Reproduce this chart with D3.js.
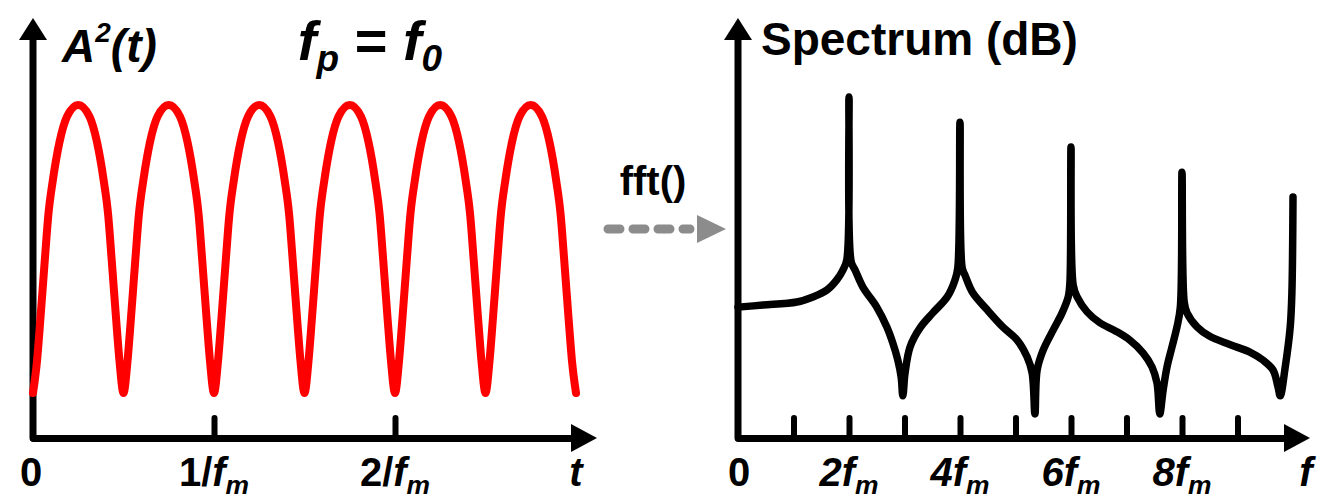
<!DOCTYPE html>
<html>
<head>
<meta charset="utf-8">
<script src="https://cdn.jsdelivr.net/npm/d3@7"></script>
<style>
  html, body { margin: 0; padding: 0; background: #fff; }
  svg { display: block; }
  text { font-family: "Liberation Sans", Arial, sans-serif; font-weight: bold; fill: #000; }
</style>
</head>
<body>
<svg id="chart" width="1340" height="500"></svg>
<script>
// Time samples (units of 1/f_m) and squared amplitude A^2(t), normalised to the peak
const timeT = [
  0.000, 0.022, 0.040, 0.065, 0.085, 0.110, 0.146, 0.188, 0.250, 0.312, 0.354, 0.390, 0.415, 0.435, 0.460, 0.478,
  0.500, 0.522, 0.540, 0.565, 0.585, 0.610, 0.646, 0.688, 0.750, 0.812, 0.854, 0.890, 0.915, 0.935, 0.960, 0.978,
  1.000, 1.022, 1.040, 1.065, 1.085, 1.110, 1.146, 1.188, 1.250, 1.312, 1.354, 1.390, 1.415, 1.435, 1.460, 1.478,
  1.500, 1.522, 1.540, 1.565, 1.585, 1.610, 1.646, 1.688, 1.750, 1.812, 1.854, 1.890, 1.915, 1.935, 1.960, 1.978,
  2.000, 2.022, 2.040, 2.065, 2.085, 2.110, 2.146, 2.188, 2.250, 2.312, 2.354, 2.390, 2.415, 2.435, 2.460, 2.478,
  2.500, 2.522, 2.540, 2.565, 2.585, 2.610, 2.646, 2.688, 2.750, 2.812, 2.854, 2.890, 2.915, 2.935, 2.960, 2.978,
  3.000
];
const ampSq = [
  0.00, 0.11, 0.25, 0.46, 0.62, 0.74, 0.87, 0.96, 1.00, 0.96, 0.87, 0.74, 0.62, 0.46, 0.25, 0.11,
  0.00, 0.11, 0.25, 0.46, 0.62, 0.74, 0.87, 0.96, 1.00, 0.96, 0.87, 0.74, 0.62, 0.46, 0.25, 0.11,
  0.00, 0.11, 0.25, 0.46, 0.62, 0.74, 0.87, 0.96, 1.00, 0.96, 0.87, 0.74, 0.62, 0.46, 0.25, 0.11,
  0.00, 0.11, 0.25, 0.46, 0.62, 0.74, 0.87, 0.96, 1.00, 0.96, 0.87, 0.74, 0.62, 0.46, 0.25, 0.11,
  0.00, 0.11, 0.25, 0.46, 0.62, 0.74, 0.87, 0.96, 1.00, 0.96, 0.87, 0.74, 0.62, 0.46, 0.25, 0.11,
  0.00, 0.11, 0.25, 0.46, 0.62, 0.74, 0.87, 0.96, 1.00, 0.96, 0.87, 0.74, 0.62, 0.46, 0.25, 0.11,
  0.00
];

// Spectrum samples: frequency (units of f_m) and relative level (dB, arbitrary reference)
const specF = [
  0.00, 0.45, 1.06, 1.35, 1.60, 1.78, 1.89, 1.96, 2.00, 2.04, 2.11, 2.25, 2.50, 2.68, 2.79, 2.88, 2.94, 2.97,
  3.01, 3.10, 3.28, 3.51, 3.77, 3.91, 3.96, 4.00, 4.04, 4.09, 4.23, 4.49, 4.77, 5.03, 5.21, 5.30, 5.35,
  5.39, 5.50, 5.68, 5.84, 5.95, 5.98, 6.00, 6.04, 6.11, 6.29, 6.52, 6.80, 7.06, 7.30, 7.46, 7.55, 7.60,
  7.66, 7.73, 7.82, 7.91, 7.97, 8.00, 8.04, 8.09, 8.27, 8.50, 8.86, 9.23, 9.46, 9.64, 9.73, 9.77,
  9.86, 9.95, 9.98, 10.00
];
const specDb = [
  38.2, 38.8, 39.7, 41.2, 43.2, 46.2, 49.1, 52.1, 100.0, 51.5, 49.1, 44.1, 38.2, 32.4, 27.6, 22.6, 17.6, 12.1,
  18.8, 26.5, 32.1, 36.5, 41.2, 46.2, 49.7, 92.6, 49.7, 47.6, 42.4, 37.4, 32.4, 28.5, 23.5, 18.8, 6.8,
  19.7, 25.6, 31.5, 36.5, 41.2, 45.3, 85.3, 44.7, 41.2, 36.8, 33.6, 31.2, 28.5, 24.7, 20.6, 15.9, 6.8,
  13.8, 20.6, 26.5, 32.4, 38.2, 77.9, 39.7, 36.5, 32.4, 29.6, 27.2, 24.9, 22.6, 19.7, 14.7, 12.1,
  20.6, 32.4, 42.4, 70.6
];

// Axis ticks and their labels
const timeTicks = [1, 2];
const timeTickLabels = [
  { t: 0, parts: [["0", false, false]] },
  { t: 1, parts: [["1/", false, false], ["f", true, false], ["m", true, true]] },
  { t: 2, parts: [["2/", false, false], ["f", true, false], ["m", true, true]] }
];
const freqTicks = [1, 2, 3, 4, 5, 6, 7, 8, 9];
const freqTickLabels = [
  { f: 0, parts: [["0", false, false]] },
  { f: 2, parts: [["2f", true, false], ["m", true, true]] },
  { f: 4, parts: [["4f", true, false], ["m", true, true]] },
  { f: 6, parts: [["6f", true, false], ["m", true, true]] },
  { f: 8, parts: [["8f", true, false], ["m", true, true]] }
];

const svg = d3.select("#chart");
const axisY = 438, axisTop = 18, lw = 7, labelY = 486;

// ---- Left panel: A^2(t) ----
const xL = d3.scaleLinear().domain([0, 1]).range([33, 214]);
const yL = d3.scaleLinear().domain([0, 1]).range([393, 105]);
const tEnd = xL.invert(597);

function arrowRight(g, x, y) {
  g.append("path").attr("d", `M${x},${y} L${x - 26},${y - 14} L${x - 26},${y + 14} Z`).attr("fill", "#000");
}
function arrowUp(g, x, y) {
  g.append("path").attr("d", `M${x},${y} L${x - 14},${y + 22} L${x + 14},${y + 22} Z`).attr("fill", "#000");
}
function styleAxis(g) {
  g.select(".domain").attr("stroke", "#000").attr("stroke-width", lw).attr("stroke-linecap", "round");
  g.selectAll(".tick line").attr("stroke", "#000").attr("stroke-width", 6).attr("stroke-linecap", "round");
  g.selectAll(".tick text").remove();
}

const left = svg.append("g");
const xAxisL = left.append("g").attr("transform", `translate(0,${axisY})`)
  .call(d3.axisBottom(d3.scaleLinear().domain([0, tEnd - 0.1]).range([xL(0), xL(tEnd - 0.1)]))
    .tickValues(timeTicks).tickSize(-20).tickSizeOuter(0).tickFormat(""));
styleAxis(xAxisL);
arrowRight(left, 597, axisY);
left.append("line").attr("x1", xL(0)).attr("x2", xL(0)).attr("y1", axisY).attr("y2", axisTop + 12)
  .attr("stroke", "#000").attr("stroke-width", lw).attr("stroke-linecap", "round");
arrowUp(left, xL(0), axisTop);

const lineL = d3.line().x((d, i) => xL(timeT[i])).y((d, i) => yL(ampSq[i])).curve(d3.curveMonotoneX);
left.append("path").attr("d", lineL(timeT)).attr("fill", "none").attr("stroke", "#ff0000")
  .attr("stroke-width", 8).attr("stroke-linecap", "round").attr("stroke-linejoin", "round");

function labelText(g, x, y, parts, size, anchor) {
  const t = g.append("text").attr("x", x).attr("y", y).attr("text-anchor", anchor || "middle")
    .style("font-size", size + "px");
  let sub = false;
  parts.forEach(([s, ital, isSub]) => {
    const ts = t.append("tspan").text(s).style("font-style", ital ? "italic" : "normal");
    if (isSub) { ts.style("font-size", (size * 0.66) + "px").attr("dy", size * 0.2); sub = true; }
    else if (sub) { ts.attr("dy", -size * 0.2); sub = false; }
  });
  return t;
}
timeTickLabels.forEach(d => labelText(left, xL(d.t) + (d.t === 0 ? -2 : 0), labelY, d.parts, 40));
labelText(left, 576, labelY, [["t", true, false]], 40);

// titles of left panel
const aT = left.append("text").attr("x", 62).attr("y", 62).style("font-size", "46px").style("font-style", "italic");
aT.append("tspan").text("A");
aT.append("tspan").text("2").style("font-size", "28px").attr("dy", -20);
aT.append("tspan").text("(t)").attr("dy", 20);
labelText(left, 370, 60, [["f", true, false], ["p", true, true], [" = ", false, false], ["f", true, false], ["0", true, true]], 56);

// ---- fft arrow ----
const mid = svg.append("g");
mid.append("text").attr("x", 653).attr("y", 195).attr("text-anchor", "middle").style("font-size", "40px").text("fft()");
mid.append("line").attr("x1", 608).attr("x2", 690).attr("y1", 229).attr("y2", 229)
  .attr("stroke", "#8c8c8c").attr("stroke-width", 9).attr("stroke-linecap", "round")
  .attr("stroke-dasharray", "12,13");
mid.append("path").attr("d", "M726,229 L697,215 L697,243 Z").attr("fill", "#8c8c8c");

// ---- Right panel: spectrum ----
const xR = d3.scaleLinear().domain([0, 10]).range([738, 1293]);
const yR = d3.scaleLinear().domain([0, 100]).range([437, 97]);
const right = svg.append("g");
const xAxisR = right.append("g").attr("transform", `translate(0,${axisY})`)
  .call(d3.axisBottom(d3.scaleLinear().domain([0, 10.1]).range([xR(0), xR(10.1)]))
    .tickValues(freqTicks).tickSize(-20).tickSizeOuter(0).tickFormat(""));
styleAxis(xAxisR);
arrowRight(right, 1310, axisY);
right.append("line").attr("x1", xR(0)).attr("x2", xR(0)).attr("y1", axisY).attr("y2", axisTop + 12)
  .attr("stroke", "#000").attr("stroke-width", lw).attr("stroke-linecap", "round");
arrowUp(right, xR(0), axisTop);

const lineR = d3.line().x((d, i) => xR(specF[i])).y((d, i) => yR(specDb[i])).curve(d3.curveCatmullRom.alpha(0.5));
right.append("path").attr("d", lineR(specF)).attr("fill", "none").attr("stroke", "#000")
  .attr("stroke-width", 7.5).attr("stroke-linecap", "round").attr("stroke-linejoin", "round");

freqTickLabels.forEach(d => labelText(right, xR(d.f) + (d.f === 0 ? 1 : 0), labelY, d.parts, 40));
labelText(right, 1306, labelY, [["f", true, false]], 40);
right.append("text").attr("x", 761).attr("y", 55).style("font-size", "46px").text("Spectrum (dB)");
</script>
</body>
</html>
